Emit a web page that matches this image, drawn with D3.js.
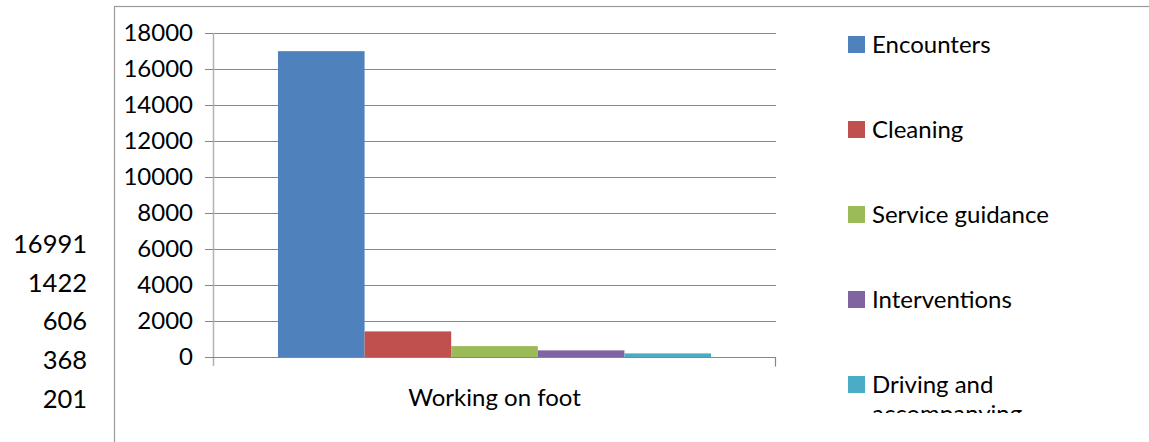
<!DOCTYPE html>
<html>
<head>
<meta charset="utf-8">
<script src="https://cdn.jsdelivr.net/npm/d3@7"></script>
<style>
    body { margin: 0; background: #fff; }
    svg { display: block; font-family: Lato, "Open Sans", sans-serif; }
</style>
</head>
<body>
<svg id="chart" width="1149" height="442"></svg>
<script>
// data
let categories = ["Working on foot"];
let series = ["Encounters", "Cleaning", "Service guidance", "Interventions", "Driving and accompanying"];
let values = [16991, 1422, 606, 368, 201];
let colors = ["#4F81BD", "#C0504D", "#9BBB59", "#8064A2", "#4BACC6"];
let y_ticks = [0, 2000, 4000, 6000, 8000, 10000, 12000, 14000, 16000, 18000];

let svg = d3.select("#chart");
let margin = { top: 33, left: 213, right: 776, bottom: 357 };

// chart area border, runs off the picture on the right and bottom
svg.append("rect")
    .attr("x", 114.5)
    .attr("y", 6.5)
    .attr("width", 1200)
    .attr("height", 600)
    .attr("fill", "none")
    .attr("stroke", "#9a9a9a")
    .attr("stroke-width", 1.2);

// the loose column of values left of the chart
svg.append("g")
    .selectAll("text")
    .data(values).enter()
    .append("text")
    .attr("x", 87)
    .attr("y", (_, i) => 244 + i * 38.7)
    .attr("dy", "0.35em")
    .attr("text-anchor", "end")
    .attr("font-size", 25.5)
    .attr("fill", "#000")
    .text(d => d);

let y = d3.scaleLinear()
    .domain([0, 18000])
    .range([margin.bottom, margin.top]);

let x0 = d3.scaleBand()
    .domain(categories)
    .range([margin.left, margin.right]);

let x1 = d3.scaleBand()
    .domain(series)
    .range([0, x0.bandwidth()])
    .paddingOuter(0.75);

// gridlines
svg.append("g")
    .selectAll("line")
    .data(y_ticks.filter(d => d > 0)).enter()
    .append("line")
    .attr("x1", margin.left)
    .attr("x2", margin.right)
    .attr("y1", d => Math.round(y(d)) + 0.5)
    .attr("y2", d => Math.round(y(d)) + 0.5)
    .attr("stroke", "#868686")
    .attr("stroke-width", 1);

// bars
svg.append("g")
    .selectAll("rect")
    .data(series).enter()
    .append("rect")
    .attr("x", d => x0(categories[0]) + x1(d))
    .attr("width", x1.bandwidth())
    .attr("y", (_, i) => y(values[i]))
    .attr("height", (_, i) => y(0) - y(values[i]))
    .attr("fill", (_, i) => colors[i]);

// y axis
let y_axis = d3.axisLeft(y).tickValues(y_ticks).tickFormat(d3.format("d")).tickSize(8).tickPadding(12);
let gy = svg.append("g")
    .attr("transform", `translate(${margin.left}, 0)`)
    .call(y_axis);
gy.select(".domain")
    .attr("d", `M0.5,${margin.top}V${margin.bottom + 9}`)
    .attr("stroke", "#b3b3b3")
    .attr("stroke-width", 1.5);
gy.selectAll(".tick line").attr("stroke", "#868686");
gy.selectAll(".tick text")
    .attr("font-size", 24)
    .attr("font-family", "Lato, 'Open Sans', sans-serif")
    .attr("fill", "#000");

// x axis
let x_axis = d3.axisBottom(x0).tickSize(0).tickPadding(31);
let gx = svg.append("g")
    .attr("transform", `translate(0, ${margin.bottom + 0.5})`)
    .call(x_axis);
gx.select(".domain")
    .attr("d", `M${margin.left},0H${margin.right}M${margin.right - 0.5},0V9`)
    .attr("stroke", "#868686")
    .attr("stroke-width", 1.2);
gx.selectAll(".tick text")
    .attr("font-size", 24)
    .attr("font-family", "Lato, 'Open Sans', sans-serif")
    .attr("fill", "#000");

// legend, the last entry wraps and gets clipped
svg.append("clipPath")
    .attr("id", "legend_clip")
    .append("rect")
    .attr("x", 840)
    .attr("y", 0)
    .attr("width", 300)
    .attr("height", 413);

let legend = svg.append("g").attr("clip-path", "url(#legend_clip)");
let items = legend.selectAll("g")
    .data(series).enter()
    .append("g")
    .attr("transform", (_, i) => `translate(848, ${44.5 + i * 85})`);

items.append("rect")
    .attr("x", 0)
    .attr("y", -8.5)
    .attr("width", 17)
    .attr("height", 17)
    .attr("fill", (_, i) => colors[i]);

items.append("text")
    .attr("x", 24)
    .attr("y", 0)
    .attr("font-size", 24)
    .attr("fill", "#000")
    .each(function (d) {
        let words = d === "Driving and accompanying" ? ["Driving and", "accompanying"] : [d];
        d3.select(this).selectAll("tspan")
            .data(words).enter()
            .append("tspan")
            .attr("x", 24)
            .attr("dy", (_, i) => i === 0 ? "0.35em" : "1.2em")
            .text(w => w);
    });
</script>
</body>
</html>
